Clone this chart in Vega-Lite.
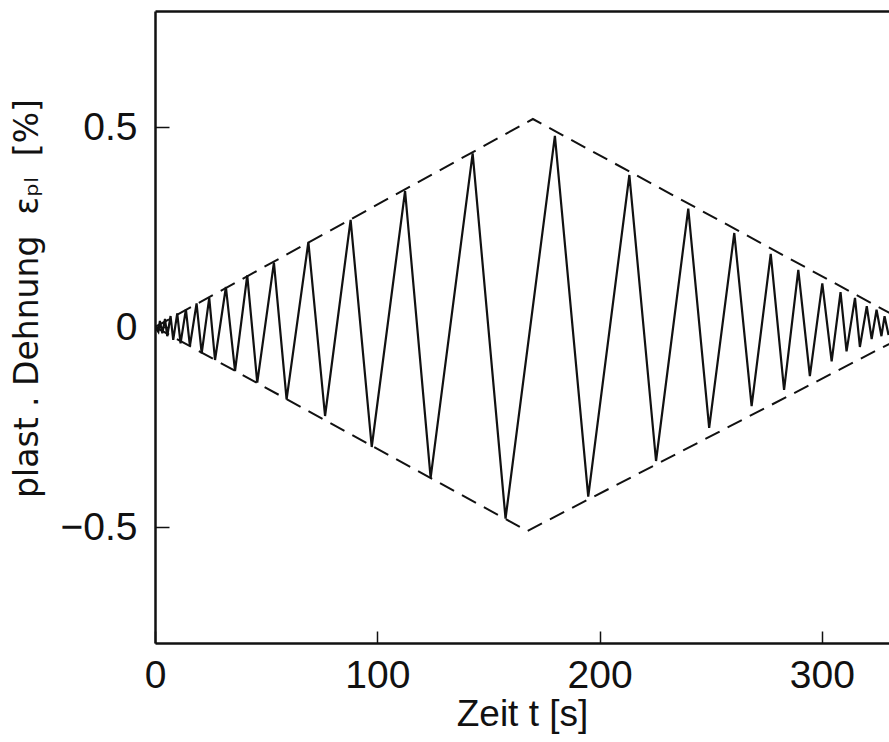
{
  "$schema": "https://vega.github.io/schema/vega-lite/v6.json",
  "width": 734,
  "height": 632,
  "autosize": {"type": "none"},
  "padding": {"left": 155, "top": 11, "right": 0, "bottom": 99},
  "background": "white",
  "config": {
    "view": {"stroke": null},
    "axis": {"grid": false, "domainColor": "#111", "domainWidth": 2.5, "tickColor": "#111", "tickWidth": 1.5, "labelColor": "#111", "titleColor": "#111", "labelFontWeight": "normal", "titleFontWeight": "normal"}
  },
  "datasets": {
    "zigzag": [
      {"t": 0, "v": 0}, {"t": 1.5, "v": -0.012}, {"t": 2.2, "v": 0.015}, {"t": 3.3, "v": -0.016},
      {"t": 4.5, "v": 0.02}, {"t": 5.5, "v": -0.023}, {"t": 7.0, "v": 0.0275}, {"t": 8.2, "v": -0.032},
      {"t": 10.0, "v": 0.034}, {"t": 11.5, "v": -0.041}, {"t": 13.9, "v": 0.044}, {"t": 15.7, "v": -0.0475},
      {"t": 18.7, "v": 0.059}, {"t": 21.0, "v": -0.066}, {"t": 24.4, "v": 0.073}, {"t": 27.0, "v": -0.0825},
      {"t": 31.9, "v": 0.1}, {"t": 36.0, "v": -0.11}, {"t": 41.5, "v": 0.129}, {"t": 46.0, "v": -0.139},
      {"t": 53.5, "v": 0.161}, {"t": 59.2, "v": -0.181}, {"t": 69.0, "v": 0.2125}, {"t": 76.5, "v": -0.2225},
      {"t": 88.0, "v": 0.268}, {"t": 97.5, "v": -0.3}, {"t": 112.5, "v": 0.34}, {"t": 124.0, "v": -0.377},
      {"t": 142.9, "v": 0.434}, {"t": 157.7, "v": -0.479}, {"t": 179.9, "v": 0.478}, {"t": 194.9, "v": -0.424},
      {"t": 213.4, "v": 0.38}, {"t": 225.4, "v": -0.335}, {"t": 239.9, "v": 0.296}, {"t": 249.3, "v": -0.252},
      {"t": 260.6, "v": 0.235}, {"t": 268.4, "v": -0.198}, {"t": 277.0, "v": 0.183}, {"t": 283.0, "v": -0.157},
      {"t": 289.4, "v": 0.143}, {"t": 294.6, "v": -0.123}, {"t": 300.2, "v": 0.109}, {"t": 304.4, "v": -0.086},
      {"t": 308.4, "v": 0.087}, {"t": 311.1, "v": -0.061}, {"t": 314.9, "v": 0.073}, {"t": 317.1, "v": -0.05},
      {"t": 320.2, "v": 0.052}, {"t": 322.4, "v": -0.03}, {"t": 324.6, "v": 0.043}, {"t": 326.8, "v": -0.023},
      {"t": 328.2, "v": 0.027}, {"t": 330.0, "v": -0.02}
    ],
    "upper": [{"t": 0, "v": 0}, {"t": 170, "v": 0.52}, {"t": 342, "v": 0}],
    "lower": [{"t": 0, "v": 0}, {"t": 167.5, "v": -0.51}, {"t": 345, "v": 0}]
  },
  "resolve": {"axis": {"x": "independent"}},
  "layer": [
    {
      "data": {"name": "zigzag"},
      "mark": {"type": "line", "color": "#111", "strokeWidth": 2.2, "clip": true},
      "encoding": {
        "x": {
          "field": "t", "type": "quantitative",
          "scale": {"domain": [0, 330.2], "nice": false, "zero": false},
          "axis": {
            "values": [0, 100, 200, 300], "format": "d", "title": "Zeit t [s]",
            "tickSize": -12, "labelFont": "Liberation Sans", "labelFontSize": 39,
            "labelPadding": 25, "labelFlush": false, "labelDx": 5,
            "titleFont": "Liberation Sans", "titleFontSize": 37, "titlePadding": 1
          }
        },
        "y": {
          "field": "v", "type": "quantitative",
          "scale": {"domain": [-0.79, 0.79], "nice": false, "zero": false},
          "axis": {
            "values": [-0.5, 0, 0.5], "format": ".1~f", "title": "plast . Dehnung\u00a0\u00a0εₚₗ\u00a0\u00a0[%]",
            "tickSize": -14, "labelFont": "Liberation Sans", "labelFontSize": 39,
            "labelPadding": 32, "labelDy": 3,
            "titleFont": "DejaVu Sans", "titleFontSize": 33, "titleX": -118, "titleY": 287,
            "titleBaseline": "alphabetic"
          }
        }
      }
    },
    {
      "data": {"name": "upper"},
      "mark": {"type": "line", "color": "#111", "strokeWidth": 2, "strokeDash": [16, 9], "clip": true},
      "encoding": {
        "x": {
          "field": "t", "type": "quantitative",
          "scale": {"domain": [0, 330.2], "nice": false, "zero": false},
          "axis": {"orient": "top", "labels": false, "ticks": false, "title": null, "domainWidth": 2.5, "domainColor": "#111"}
        },
        "y": {"field": "v", "type": "quantitative", "scale": {"domain": [-0.79, 0.79], "nice": false, "zero": false}}
      }
    },
    {
      "data": {"name": "lower"},
      "mark": {"type": "line", "color": "#111", "strokeWidth": 2, "strokeDash": [16, 9], "clip": true},
      "encoding": {
        "x": {"field": "t", "type": "quantitative", "scale": {"domain": [0, 330.2], "nice": false, "zero": false}, "axis": null},
        "y": {"field": "v", "type": "quantitative", "scale": {"domain": [-0.79, 0.79], "nice": false, "zero": false}}
      }
    },
    {
      "mark": {"type": "rule", "color": "#111", "strokeWidth": 1.3},
      "encoding": {"y": {"datum": 0, "type": "quantitative"}}
    }
  ]
}
